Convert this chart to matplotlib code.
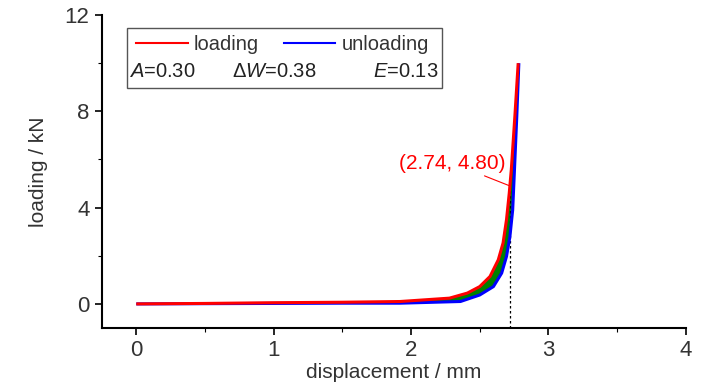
import numpy as np
import matplotlib
matplotlib.use('Agg')
import matplotlib.pyplot as plt
from matplotlib.lines import Line2D
from matplotlib.patches import Rectangle

plt.rcParams['font.family'] = ['Liberation Sans', 'DejaVu Sans']
plt.rcParams['mathtext.fontset'] = 'custom'
plt.rcParams['mathtext.rm'] = 'Liberation Sans'
plt.rcParams['mathtext.it'] = 'Liberation Sans:italic'

# loading / unloading curves (displacement mm, load kN)
loading_x = [0, 0.5, 1.0, 1.5, 1.92, 2.28, 2.41, 2.50, 2.575, 2.635, 2.67, 2.695, 2.715, 2.73, 2.756, 2.78]
loading_y = [0, 0.02, 0.05, 0.07, 0.10, 0.24, 0.45, 0.72, 1.14, 1.83, 2.53, 3.50, 4.60, 5.58, 7.80, 10.0]
unloading_x = [0, 0.5, 1.0, 1.5, 1.92, 2.36, 2.50, 2.60, 2.66, 2.695, 2.72, 2.74, 2.75, 2.77, 2.785]
unloading_y = [0, 0.01, 0.02, 0.03, 0.03, 0.10, 0.37, 0.72, 1.28, 1.97, 2.80, 3.90, 5.17, 7.80, 10.0]

mark_x, mark_y = 2.74, 4.80
A_val, dW_val, E_val = 0.30, 0.38, 0.13

fig = plt.figure(figsize=(7.28, 3.90), dpi=100)
ax = fig.add_axes([0.140, 0.159, 0.802, 0.8025])

# hysteresis area
poly_x = loading_x + unloading_x[::-1]
poly_y = loading_y + unloading_y[::-1]
ax.fill(poly_x, poly_y, color='#008000', lw=0, zorder=1)
ax.plot(unloading_x, unloading_y, color='#0000ff', lw=2.2, zorder=2, solid_capstyle='butt')
ax.plot(loading_x, loading_y, color='#ff0000', lw=2.2, zorder=3, solid_capstyle='butt')

ax.plot([mark_x - 0.02, mark_x - 0.02], [-1, mark_y], color='black', ls=(0, (2, 2)), lw=0.9, zorder=1)
ax.annotate('(%.2f, %.2f)' % (mark_x, mark_y), xy=(mark_x - 0.02, mark_y + 0.1), xytext=(2.30, 5.85),
            ha='center', va='center', color='#ff0000', fontsize=15,
            arrowprops=dict(arrowstyle='-', color='#ff0000', lw=0.8, shrinkA=1, shrinkB=0))

ax.set_xlim(-0.25, 4)
ax.set_ylim(-1, 12)
ax.set_xticks([0, 1, 2, 3, 4])
ax.set_xticks([0.5, 1.5, 2.5, 3.5], minor=True)
ax.set_yticks([0, 4, 8, 12])
ax.set_yticks([2, 6, 10], minor=True)
ax.spines['top'].set_visible(False)
ax.spines['right'].set_visible(False)
for s in ['left', 'bottom']:
    ax.spines[s].set_linewidth(1.5)
ax.tick_params(which='major', direction='out', length=5, width=1.2, labelsize=16, labelcolor='#333333', pad=4)
ax.tick_params(which='minor', direction='out', length=3, width=0.8)
ax.set_xlabel('displacement / mm', fontsize=15, color='#333333', labelpad=1)
ax.set_ylabel('loading / kN', fontsize=15, color='#333333', labelpad=12)

# legend box drawn by hand
ax.add_patch(Rectangle((0.043, 0.767), 0.539, 0.191, transform=ax.transAxes,
                       fill=False, edgecolor='#555555', lw=1.0, zorder=5))
ax.add_line(Line2D([0.058, 0.147], [0.911, 0.911], transform=ax.transAxes, color='#ff0000', lw=1.5))
ax.add_line(Line2D([0.312, 0.400], [0.911, 0.911], transform=ax.transAxes, color='#0000ff', lw=1.5))
ax.text(0.157, 0.905, 'loading', transform=ax.transAxes, va='center', fontsize=14.5, color='#333333')
ax.text(0.410, 0.905, 'unloading', transform=ax.transAxes, va='center', fontsize=14.5, color='#333333')
ax.text(0.046, 0.818, r'$\it{A}$=%.2f' % A_val, transform=ax.transAxes, va='center', fontsize=14.5, color='#222222')
ax.text(0.222, 0.818, r'$\Delta\it{W}$=%.2f' % dW_val, transform=ax.transAxes, va='center', fontsize=14.5, color='#222222')
ax.text(0.577, 0.818, r'$\it{E}$=%.2f' % E_val, transform=ax.transAxes, va='center', ha='right', fontsize=14.5, color='#222222')

plt.savefig('out.png', dpi=100)
